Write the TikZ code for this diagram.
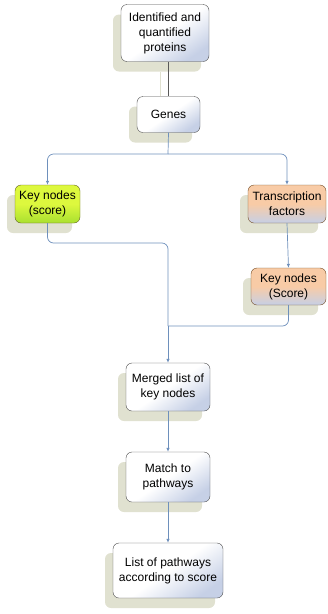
\documentclass[tikz,border=0pt]{standalone}
\usepackage{fontspec}
\setmainfont{Liberation Sans}
\usetikzlibrary{arrows.meta, shadows}
\definecolor{shadowc}{HTML}{E0E1D0}
\definecolor{boxblue}{HTML}{C6D0E6}
\definecolor{linkblue}{HTML}{6E90BC}
\definecolor{limec}{HTML}{DDF83E}
\definecolor{peachc}{HTML}{F8CBA6}
\tikzset{
  stepbox/.style={draw=black!70, thin, rounded corners=6pt, align=center,
    font=\fontsize{12}{15}\selectfont, inner sep=2pt,
    drop shadow={shadow xshift=-8pt, shadow yshift=-10pt, fill=shadowc, opacity=1},
    top color=white, bottom color=boxblue, middle color=white, shading angle=35},
  keybox/.style={stepbox, top color=limec, bottom color=limec!85!green!90!black, middle color=limec, draw=olive!60!black},
  tfbox/.style={stepbox, top color=peachc, bottom color=boxblue, middle color=peachc, draw=brown!60!black},
  link/.style={draw=linkblue, line width=0.7pt, rounded corners=6pt},
  linkarrow/.style={link, -{Latex[length=4pt,width=3.5pt]}}
}

\begin{document}
\begin{tikzpicture}[x=1pt, y=-1pt]
\useasboundingbox (0,0) rectangle (328,614);

% boxes
\node[stepbox, minimum width=88pt, minimum height=57pt] (prot) at (165,33) {Identified and\\quantified\\proteins};
\node[stepbox, minimum width=63pt, minimum height=36pt] (genes) at (168.5,114.5) {Genes};
\node[keybox, minimum width=65pt, minimum height=38pt] (keyscore) at (47.5,204) {Key nodes\\(score)};
\node[tfbox, minimum width=78pt, minimum height=38pt] (tf) at (287,204) {Transcription\\factors};
\node[tfbox, minimum width=75pt, minimum height=37pt] (keyScore) at (288.5,286.5) {Key nodes\\(Score)};
\node[stepbox, minimum width=84pt, minimum height=48pt] (merged) at (168,387) {Merged list of\\key nodes};
\node[stepbox, minimum width=84pt, minimum height=50pt] (match) at (168,477) {Match to\\pathways};
\node[stepbox, minimum width=110pt, minimum height=55pt] (list) at (168,570.5) {List of pathways\\according to score};

\coordinate (split) at (168,154);
\coordinate (join) at (168,326);

% connectors
\draw[shadowc, line width=0.8pt] ([xshift=-8pt]genes.north |- prot.south) ++(0,10) -- ([xshift=-8pt]genes.north);
\draw[black!65, line width=0.7pt] (genes.north |- prot.south) -- (genes.north);
\draw[link] (genes.south) -- (split);
\draw[linkarrow] (split) -| (keyscore.north);
\draw[linkarrow] (split) -| (tf.north);
\draw[linkarrow] (tf.south) -- (keyScore.north);
\draw[link] (keyscore.south) |- (168,243) -- (join);
\draw[link] (keyScore.south) |- (join);
\draw[linkarrow] (join) -- (merged.north);
\draw[linkarrow] (merged.south) -- (match.north);
\draw[linkarrow] (match.south) -- (list.north);
\end{tikzpicture}
\end{document}
